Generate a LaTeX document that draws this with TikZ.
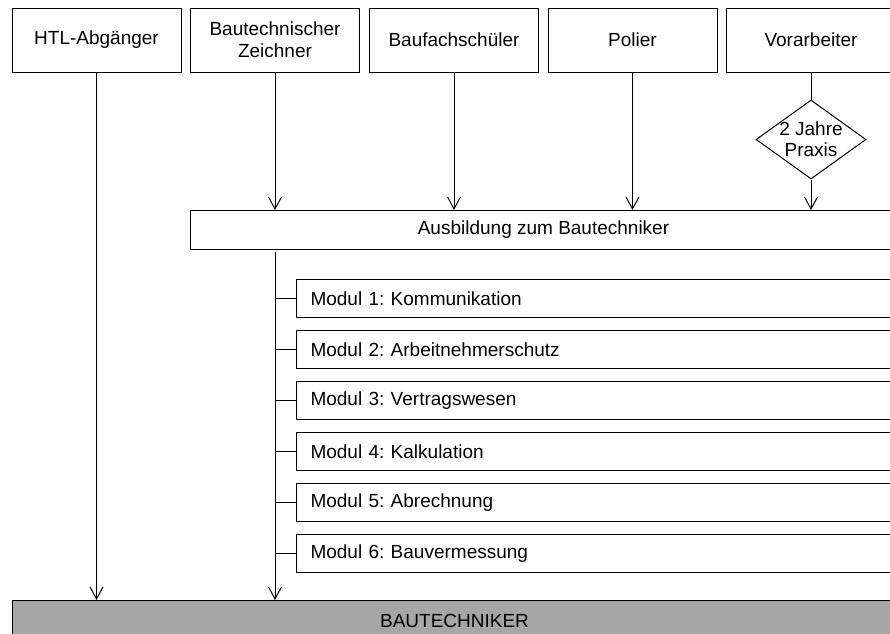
\documentclass[tikz,border=0pt]{standalone}
\usepackage{fontspec}
\setmainfont{Liberation Sans}
\usetikzlibrary{arrows.meta,positioning,shapes.geometric}
\definecolor{cline}{HTML}{000000}
\definecolor{cgrey}{HTML}{A6A6A6}
\definecolor{cwhite}{HTML}{FFFFFF}
\frenchspacing

\begin{document}
\begin{tikzpicture}[x=1pt,y=-1pt,
  box/.style={draw=cline, line width=1pt, fill=cwhite, align=center, inner sep=0, minimum width=169pt, minimum height=64pt},
  bar/.style={draw=cline, line width=1pt, anchor=north west, inner sep=0, minimum height=39pt},
  modbox/.style={draw=cline, line width=1pt, fill=cwhite, anchor=north west, inner xsep=14pt, inner ysep=0, text width=572pt, minimum height=38pt, align=left},
  arr/.style={-{Straight Barb[length=12pt,width=13pt]}, line width=1pt, draw=cline},
  ln/.style={line width=1pt, draw=cline},
  font=\fontsize{19}{22}\selectfont]

\useasboundingbox (0,0) rectangle (890,633);

\node[box] (htl) at (96.5,40) {HTL-Abgänger};
\node[box] (zeich) at (275,40) {Bautechnischer\\Zeichner};
\node[box] (fach) at (454,40) {Baufachschüler};
\node[box] (polier) at (632.5,40) {Polier};
\node[box] (vorarb) at (811,40) {Vorarbeiter};
\node[diamond, draw=cline, line width=1pt, fill=cwhite, minimum width=110pt, minimum height=79pt, inner sep=0,
  label={[align=center, font=\fontsize{19}{21}\selectfont]center:2 Jahre\\Praxis}] (praxis) at (811,139.5) {};
\node[bar, minimum width=706pt] (aus) at (190,210) {Ausbildung zum Bautechniker};
\foreach \txt [count=\k] in {Kommunikation, Arbeitnehmerschutz, Vertragswesen, Kalkulation, Abrechnung, Bauvermessung}
  \node[modbox] (m\k) at (296,{279+51*(\k-1)}) {Modul \k: \txt};
\node[bar, fill=cgrey, minimum width=884pt, minimum height=40pt] (tech) at (12,600) {BAUTECHNIKER};
\coordinate (trunk) at (275,252);

\draw[arr] (htl) -- (htl |- tech.north);
\draw[arr] (zeich) -- (zeich |- aus.north);
\draw[arr] (fach) -- (fach |- aus.north);
\draw[arr] (polier) -- (polier |- aus.north);
\draw[ln] (vorarb) -- (praxis);
\draw[arr] (praxis) -- (praxis |- aus.north);
\draw[arr] (trunk) -- (trunk |- tech.north);
\foreach \k in {1,...,6}
  \draw[ln] (trunk |- m\k.west) -- (m\k.west);
\end{tikzpicture}
\end{document}
